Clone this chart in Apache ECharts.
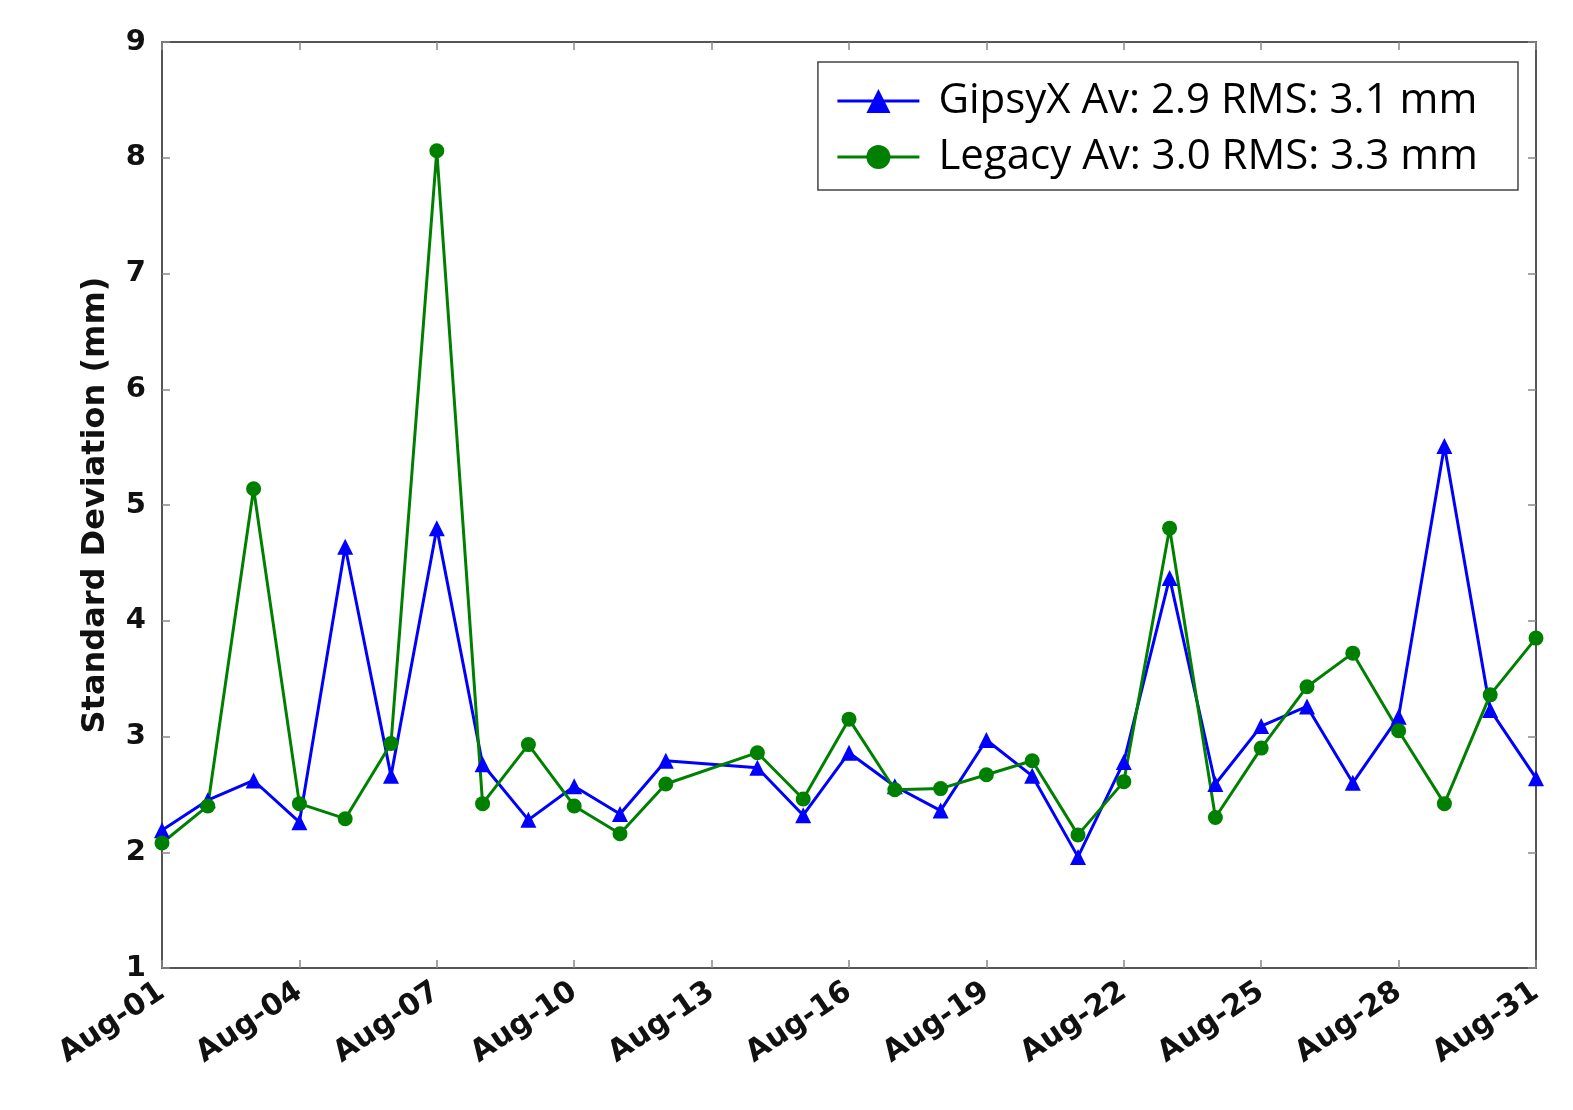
<!DOCTYPE html>
<html><head><meta charset="utf-8">
<script src="https://cdn.jsdelivr.net/npm/echarts@6/dist/echarts.min.js"></script>
<style>html,body{margin:0;padding:0;background:#fff}#c{width:1573px;height:1110px}</style>
</head><body><div id="c"></div>
<script>
const days = ["Aug-01","Aug-02","Aug-03","Aug-04","Aug-05","Aug-06","Aug-07","Aug-08","Aug-09","Aug-10",
"Aug-11","Aug-12","Aug-13","Aug-14","Aug-15","Aug-16","Aug-17","Aug-18","Aug-19","Aug-20",
"Aug-21","Aug-22","Aug-23","Aug-24","Aug-25","Aug-26","Aug-27","Aug-28","Aug-29","Aug-30","Aug-31"];
const gipsyx = [2.19,2.45,2.62,2.26,4.64,2.66,4.80,2.76,2.28,2.57,
2.33,2.79,null,2.73,2.32,2.86,2.57,2.36,2.97,2.66,
1.96,2.78,4.37,2.59,3.09,3.26,2.60,3.17,5.51,3.23,2.64];
const legacy = [2.08,2.40,5.14,2.42,2.29,2.94,8.06,2.42,2.93,2.40,
2.16,2.59,null,2.86,2.46,3.15,2.54,2.55,2.67,2.79,
2.15,2.61,4.80,2.30,2.90,3.43,3.72,3.05,2.42,3.36,3.85];
const seriesNames = ["GipsyX Av: 2.9 RMS: 3.1 mm","Legacy Av: 3.0 RMS: 3.3 mm"];
const yTicks = [1,2,3,4,5,6,7,8,9];

const chart = echarts.init(document.getElementById('c'));
const axisLine = {show:true, lineStyle:{color:'#555', width:2}};
const tickStyle = {show:true, inside:true, length:8, lineStyle:{color:'#888', width:1.5}};
chart.setOption({
  animation:false,
  backgroundColor:'#fff',
  grid:{left:162, right:37, top:42, bottom:142},
  legend:{
    orient:'vertical', right:55, top:62,
    backgroundColor:'#fff',
    borderColor:'#444', borderWidth:1.5,
    padding:[18,40,12,18], itemGap:14,
    itemWidth:82, itemHeight:30,
    lineStyle:{width:3},
    textStyle:{fontFamily:'Open Sans', fontSize:42, color:'#000', padding:[0,0,0,14]},
    data:seriesNames
  },
  xAxis:[{
    type:'category', data:days, boundaryGap:false,
    axisLine:axisLine, axisTick:Object.assign({interval:2}, tickStyle),
    axisLabel:{interval:2, rotate:34, margin:21, fontFamily:'DejaVu Sans', fontWeight:'bold', fontSize:30, color:'#111'},
    splitLine:{show:false}
  },{
    type:'category', data:days, boundaryGap:false, position:'top',
    axisLine:axisLine, axisTick:Object.assign({interval:2}, tickStyle),
    axisLabel:{show:false}, splitLine:{show:false}
  }],
  yAxis:[{
    type:'value', min:yTicks[0], max:yTicks[yTicks.length-1], interval:1,
    name:'Standard Deviation (mm)', nameLocation:'middle', nameGap:50, nameRotate:90,
    nameTextStyle:{fontFamily:'DejaVu Sans', fontWeight:'bold', fontSize:32, color:'#111'},
    axisLine:axisLine, axisTick:tickStyle,
    axisLabel:{margin:16, fontFamily:'DejaVu Sans', fontWeight:'bold', fontSize:29, color:'#111'},
    splitLine:{show:false}
  },{
    type:'value', min:yTicks[0], max:yTicks[yTicks.length-1], interval:1, position:'right',
    axisLine:axisLine, axisTick:tickStyle, axisLabel:{show:false}, splitLine:{show:false}
  }],
  series:[{
    name:seriesNames[0], type:'line', data:gipsyx, connectNulls:true,
    symbol:'triangle', symbolSize:16, showAllSymbol:true,
    lineStyle:{color:'#0000ff', width:3}, itemStyle:{color:'#0000ff'}
  },{
    name:seriesNames[1], type:'line', data:legacy, connectNulls:true,
    symbol:'circle', symbolSize:15, showAllSymbol:true,
    lineStyle:{color:'#008000', width:3}, itemStyle:{color:'#008000'}
  }]
});
</script></body></html>
